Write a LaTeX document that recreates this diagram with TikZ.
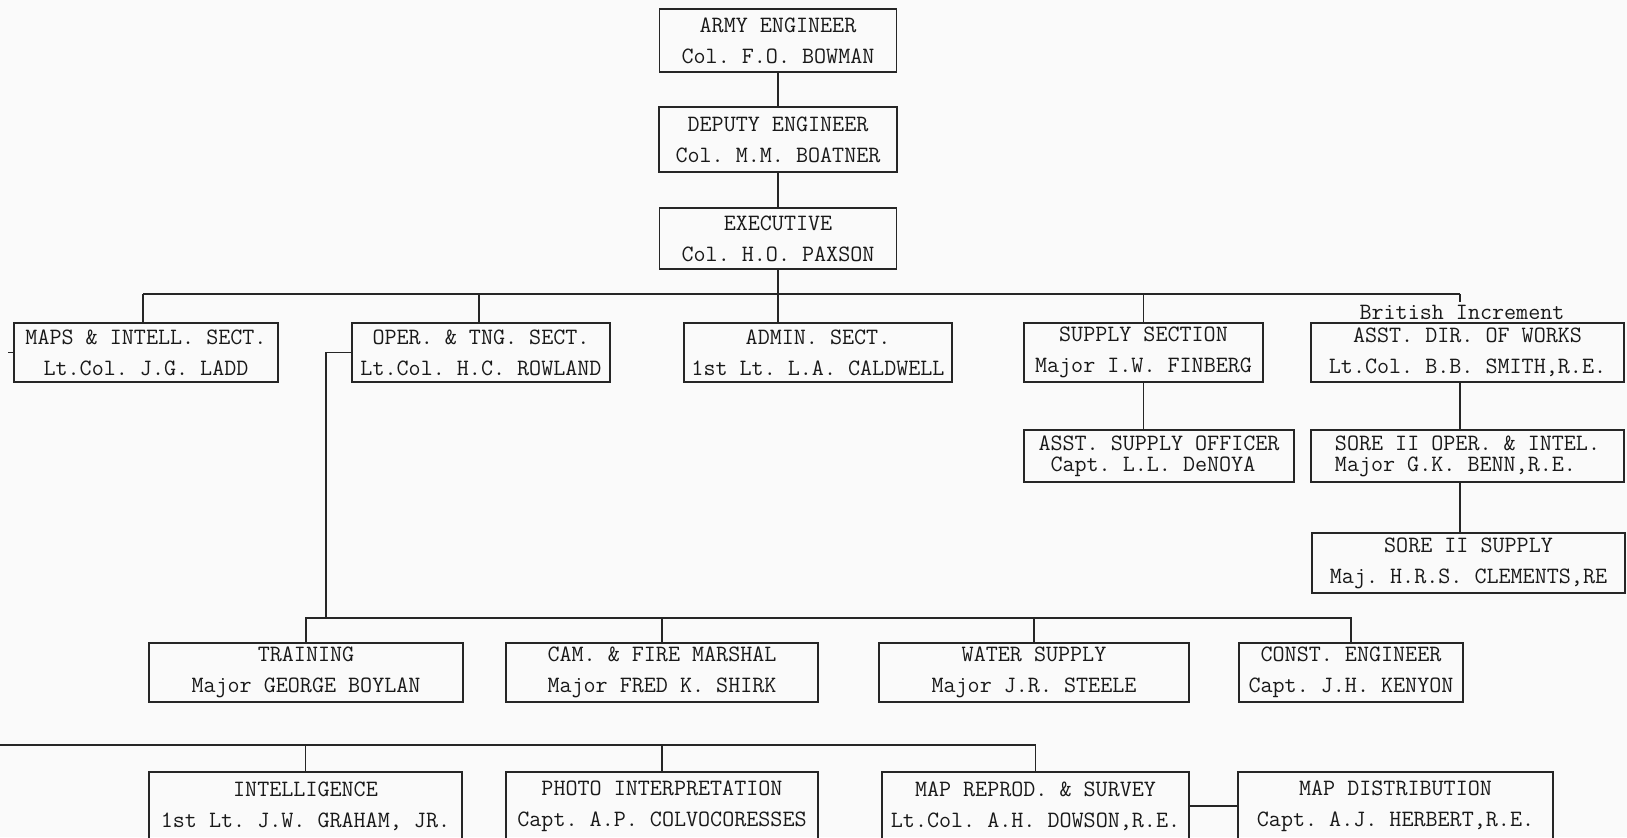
\documentclass[tikz,border=0pt]{standalone}
\usepackage{tikz}

\begin{document}
\begin{tikzpicture}[
    x=0.5pt,
    y=-0.5pt,
    post/.style={
        draw=black!85,
        line width=0.9pt,
        inner sep=0pt,
        align=center,
        text=black!90,
        font=\ttfamily\frenchspacing\fontsize{11.7}{15.5}\selectfont
    },
    tightpost/.style={
        post,
        align=left,
        font=\ttfamily\frenchspacing\fontsize{11.7}{10.5}\selectfont
    },
    link/.style={
        draw=black!85,
        line width=0.8pt
    },
    note/.style={
        inner sep=1pt,
        text=black!90,
        font=\ttfamily\frenchspacing\fontsize{11.7}{14}\selectfont
    }
]

\useasboundingbox (0,0) rectangle (1627,837);
\clip (0,0) rectangle (1627,837);
\fill[black!2] (0,0) rectangle (1627,837);

\node[post, minimum width=118.5pt, minimum height=31.5pt] (army) at (778,40.5) {ARMY ENGINEER\\Col. F.O. BOWMAN};
\node[post, minimum width=119pt, minimum height=32.5pt] (deputy) at (778,139.5) {DEPUTY ENGINEER\\Col. M.M. BOATNER};
\node[post, minimum width=118.5pt, minimum height=30.5pt] (exec) at (778,238.5) {EXECUTIVE\\Col. H.O. PAXSON};

\node[post, minimum width=132pt, minimum height=29.5pt] (maps) at (146,352.5) {MAPS \& INTELL. SECT.\\Lt.Col. J.G. LADD};
\node[post, minimum width=129pt, minimum height=29.5pt] (oper) at (481,352.5) {OPER. \& TNG. SECT.\\Lt.Col. H.C. ROWLAND};
\node[post, minimum width=134pt, minimum height=29.5pt] (admin) at (818,352.5) {ADMIN. SECT.\\1st Lt. L.A. CALDWELL};
\node[post, minimum width=119.5pt, minimum height=29.5pt] (supply) at (1143.5,352.5) {SUPPLY SECTION\\Major I.W. FINBERG};
\node[post, minimum width=156.5pt, minimum height=29.5pt] (works) at (1467.5,352.5) {ASST. DIR. OF WORKS\\Lt.Col. B.B. SMITH,R.E.};
\node[note] (brit) at (1462,312) {British Increment};

\node[tightpost, minimum width=135pt, minimum height=26pt] (offc) at (1159,456) {ASST. SUPPLY OFFICER\\\hspace{6pt}Capt. L.L. DeNOYA};
\node[tightpost, minimum width=156.5pt, minimum height=26pt] (benn) at (1467.5,456) {SORE II OPER. \& INTEL.\\Major G.K. BENN,R.E.};
\node[post, minimum width=156.5pt, minimum height=30pt] (clem) at (1468.5,563) {SORE II SUPPLY\\Maj. H.R.S. CLEMENTS,RE};

\node[post, minimum width=157pt, minimum height=29.5pt] (trng) at (306,672.5) {TRAINING\\Major GEORGE BOYLAN};
\node[post, minimum width=156pt, minimum height=29.5pt] (cam) at (662,672.5) {CAM. \& FIRE MARSHAL\\Major FRED K. SHIRK};
\node[post, minimum width=155pt, minimum height=29.5pt] (water) at (1034,672.5) {WATER SUPPLY\\Major J.R. STEELE};
\node[post, minimum width=112pt, minimum height=29.5pt] (const) at (1351,672.5) {CONST. ENGINEER\\Capt. J.H. KENYON};

\node[post, minimum width=156.5pt, minimum height=34pt] (intel) at (305.5,806) {INTELLIGENCE\\1st Lt. J.W. GRAHAM, JR.};
\node[post, minimum width=156pt, minimum height=34pt] (photo) at (662,806) {PHOTO INTERPRETATION\\Capt. A.P. COLVOCORESSES};
\node[post, minimum width=153.5pt, minimum height=34pt] (repro) at (1035.5,806) {MAP REPROD. \& SURVEY\\Lt.Col. A.H. DOWSON,R.E.};
\node[post, minimum width=157.5pt, minimum height=34pt] (dist) at (1395.5,806) {MAP DISTRIBUTION\\Capt. A.J. HERBERT,R.E.};

\coordinate (busL) at (143,294);
\coordinate (busR) at (1460,294);
\coordinate (operdrop) at (479,294);
\coordinate (mapstub) at (8,352.5);
\coordinate (tngbus) at (326,618);
\coordinate (mapbus) at (0,745);

\draw[link] (army) -- (deputy) -- (exec);
\draw[link] (exec.south) -- (exec.south |- admin.north);
\draw[link] (busL) -- (busR);
\draw[link] (busL) -- (busL |- maps.north);
\draw[link] (operdrop) -- (operdrop |- oper.north);
\draw[link] (supply.north |- busL) -- (supply.north);
\draw[link] (busR) -- (busR |- brit.north);
\draw[link] (maps.west) -- (mapstub);

\draw[link] (supply.south) -- (supply.south |- offc.north);
\draw[link] (busR |- works.south) -- (busR |- benn.north);
\draw[link] (busR |- benn.south) -- (busR |- clem.north);

\draw[link] (oper.west) -| (tngbus);
\draw[link] (trng.north) -- (trng.north |- tngbus) -- (const.north |- tngbus) -- (const.north);
\draw[link] (cam.north |- tngbus) -- (cam.north);
\draw[link] (water.north |- tngbus) -- (water.north);

\draw[link] (mapbus) -- (repro.north |- mapbus) -- (repro.north);
\draw[link] (intel.north |- mapbus) -- (intel.north);
\draw[link] (photo.north |- mapbus) -- (photo.north);
\draw[link] (repro) -- (dist);

\end{tikzpicture}
\end{document}
